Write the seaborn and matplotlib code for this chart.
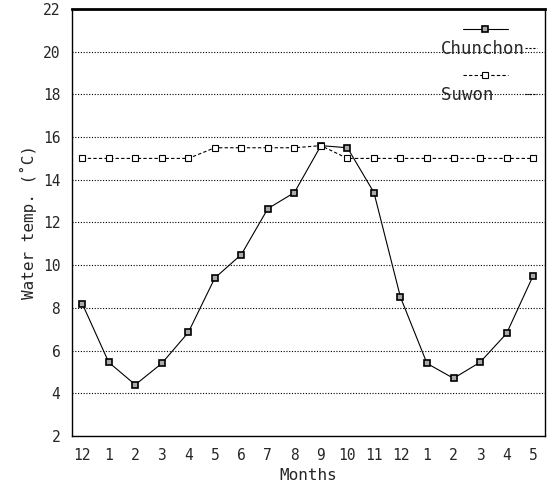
import numpy as np
import pandas as pd
import matplotlib
matplotlib.use('Agg')
from matplotlib import pyplot as plt
from matplotlib.lines import Line2D
import seaborn as sns

months = ['12', '1', '2', '3', '4', '5', '6', '7', '8', '9', '10', '11', '12', '1', '2', '3', '4', '5']
chunchon = [8.2, 5.45, 4.4, 5.4, 6.85, 9.4, 10.5, 12.65, 13.4, 15.6, 15.5, 13.4, 8.5, 5.4, 4.7, 5.45, 6.8, 9.5]
suwon = [15.0, 15.0, 15.0, 15.0, 15.0, 15.5, 15.5, 15.5, 15.5, 15.6, 15.0, 15.0, 15.0, 15.0, 15.0, 15.0, 15.0, 15.0]

pos = np.arange(len(months))
df = pd.DataFrame({'pos': pos, 'Chunchon': chunchon, 'Suwon': suwon})

sns.set_style('white')
plt.rcParams['font.family'] = ['DejaVu Sans Mono']

fig = plt.figure(figsize=(5.55, 4.88), dpi=100)
ax = fig.add_axes([0.13, 0.1066, 0.852, 0.875])

ax.yaxis.grid(True, linestyle=(0, (1, 1.5)), color='black', linewidth=0.8)
ax.set_axisbelow(True)

c_style = dict(color='black', linewidth=0.8, marker='s', markersize=5,
               markerfacecolor='#aaaaaa', markeredgecolor='black', markeredgewidth=1.2)
s_style = dict(color='black', linewidth=0.8, linestyle=(0, (3, 2)), marker='s', markersize=5,
               markerfacecolor='white', markeredgecolor='black', markeredgewidth=0.8)

sns.lineplot(data=df, x='pos', y='Chunchon', ax=ax, **c_style)
sns.lineplot(data=df, x='pos', y='Suwon', ax=ax, **s_style)

ax.set_xlim(-0.38, len(months) - 1 + 0.45)
ax.set_ylim(2, 22)
ax.set_yticks(np.arange(2, 23, 2))
ax.set_xticks(pos)
ax.set_xticklabels(months)
ax.tick_params(axis='both', direction='out', length=5, width=0.8, labelsize=10.5, color='black')
ax.set_xlabel('Months', fontsize=11.5)
ax.set_ylabel('Water temp. (˚C)', fontsize=11.5)

for s in ax.spines.values():
    s.set_color('black')
    s.set_linewidth(1.0)
ax.spines['top'].set_linewidth(2.0)

# legend drawn the old way: sample line above the name
h_c = Line2D([], [], **c_style)
h_s = Line2D([], [], **s_style)
h_d1 = Line2D([], [], color='black', linewidth=0.8, linestyle=(0, (2, 1.5)))
h_d2 = Line2D([], [], color='black', linewidth=0.8, linestyle=(0, (2, 1.5)))
h_n = Line2D([], [], color='none')
leg_kw = dict(frameon=False, fontsize=12.5, labelspacing=0.3)
names = ax.legend([h_n, h_d1, h_n, h_d2], [' ', 'Chunchon', ' ', 'Suwon   '],
                  loc='upper right', markerfirst=False, handlelength=0.7,
                  handletextpad=0.0, bbox_to_anchor=(1.0, 1.0), borderaxespad=0.05, **leg_kw)
ax.add_artist(names)
ax.legend([h_c, h_n, h_s, h_n], [' ', ' ', ' ', ' '], loc='upper left',
          handlelength=2.6, handletextpad=0.0, bbox_to_anchor=(0.8, 1.0),
          borderaxespad=0.3, **leg_kw)

fig.savefig('out.png', dpi=100)
